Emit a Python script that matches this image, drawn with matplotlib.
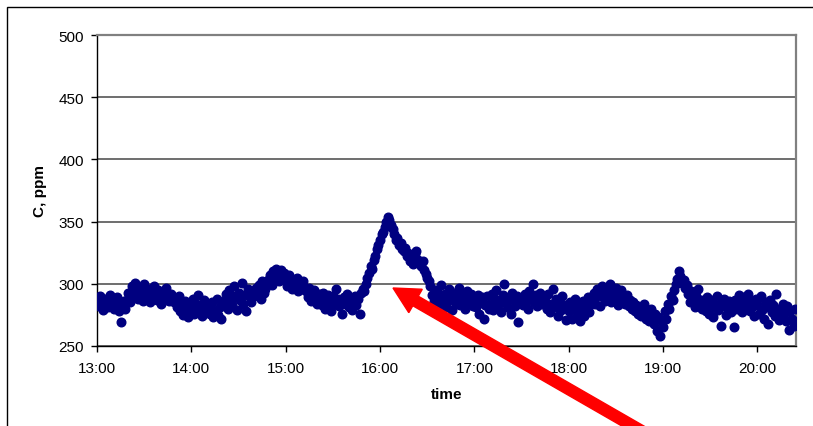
import matplotlib
matplotlib.use("Agg")
import matplotlib.pyplot as plt
from matplotlib.patches import FancyArrow, Rectangle
from matplotlib.transforms import IdentityTransform
import numpy as np

plt.rcParams['font.family'] = ['Liberation Sans', 'DejaVu Sans']

# CO2 concentration (ppm), one reading per minute starting at 13:00
c_13 = [286, 282, 290, 284, 279, 288, 285, 281, 291, 283, 287, 280, 284, 289, 278, 269, 283, 286, 280,
        287, 293, 285, 298, 290, 301,
        294, 288, 297, 291, 286, 300, 293, 289, 296, 285, 292, 298, 290, 287, 295, 291, 284, 293, 289, 297,
        288, 286, 292, 290, 285,
        287, 281, 290, 278, 284, 275, 286, 280, 273, 283]
c_14 = [280, 288, 276, 284, 291, 279, 283, 274, 287, 281, 277,
        282, 276, 285, 273, 279, 288, 275, 281, 272, 284,
        286, 292, 280, 295, 288, 283, 298, 290, 279, 293, 287, 301, 284, 291, 278, 296, 289, 285, 294, 290,
        297, 291, 299, 288, 302, 293, 296, 300,
        303, 307, 299, 310, 305, 312, 308, 302, 311, 306, 309]
c_15 = [304, 298, 307, 301, 296, 303, 299, 305, 294, 300, 297, 302, 295,
        294, 289, 297, 286, 291, 295, 288, 284, 292,
        289, 283, 293, 280, 287, 291, 285, 278, 290, 284, 296, 288, 282, 286, 276, 289, 284, 292, 281, 287,
        279, 285, 290, 283, 288, 276,
        293, 296, 294, 300, 305, 309, 314, 312, 319, 322, 328, 331]
c_16 = [335, 340, 342, 346, 350, 354,
        351, 347, 344, 340, 335, 337, 331, 333, 328, 326, 329, 322, 325, 318,
        321, 316, 324, 326, 319, 317, 314, 318, 311, 308, 305, 302,
        298, 291, 286, 295, 282, 293, 288, 299, 285, 292, 281, 290, 296, 287, 279, 293, 284, 289, 297, 283,
        291, 286, 280, 294, 288, 285, 292, 282]
c_17 = [287, 281, 291, 276, 285, 289, 272, 283, 290, 280,
        284, 292, 279, 288, 295, 283, 286, 277, 291, 300, 285, 281, 289, 276, 293, 287, 282, 290, 269, 286,
        289, 283, 292, 286, 280, 294, 288, 300, 285, 291, 282, 287, 293, 284, 289,
        286, 280, 292, 277, 284, 296, 281, 288, 274, 285, 279, 290, 283, 271, 282]
c_18 = [278, 285, 272, 281, 288, 276, 283, 270, 279, 286, 274, 282, 289, 277, 284,
        287, 293, 284, 296, 290, 282, 298, 291, 286, 294, 289, 300, 285, 292, 288, 297, 283, 291, 295, 287,
        289, 284, 291, 282, 287, 280, 285, 278, 283, 276, 281, 274, 279, 284, 272, 277, 270, 280, 275,
        268, 276, 262, 273, 258, 270]
c_19 = [265, 278, 272,
        284, 280, 290, 287, 295, 300, 304, 310,
        306, 301, 303, 297, 299,
        292, 285, 294, 288, 281, 290, 296, 284, 287, 280,
        285, 278, 289, 276, 283, 287, 273, 281, 290, 279, 284, 266, 282, 288, 275, 280, 286, 277, 283, 265,
        287, 280, 291, 283, 277, 289, 285, 281, 292, 278, 286, 282, 274, 288,
        283, 276, 290, 279, 272, 285, 281, 268, 287, 277, 283, 274, 292, 280, 271, 278, 284,
        276, 270, 282, 263, 278, 272, 266, 280]

concentration = c_13 + c_14 + c_15 + c_16 + c_17 + c_18 + c_19
minutes = np.arange(len(concentration))

hour_ticks = [0, 60, 120, 180, 240, 300, 360, 420]
hour_labels = ["13:00", "14:00", "15:00", "16:00", "17:00", "18:00", "19:00", "20:00"]
ppm_ticks = [250, 300, 350, 400, 450, 500]

W, H = 813, 427
fig = plt.figure(figsize=(W / 100, H / 100), dpi=100)
fig.patch.set_facecolor('white')

# outer chart frame
fig.add_artist(Rectangle((7 / W, -0.1), 1.2, (H - 8) / H + 0.1, transform=fig.transFigure,
                         fill=False, edgecolor='black', linewidth=1.0))

ax = fig.add_axes([97 / W, (H - 347) / H, (796 - 97) / W, (347 - 36) / H])
ax.set_axisbelow(True)
ax.yaxis.grid(True, color='#555555', linewidth=1.2)

ax.plot(minutes, concentration, linestyle='none', marker='o', markersize=6.2,
        markerfacecolor='#000080', markeredgecolor='#000080', markeredgewidth=1.0, zorder=3)

ax.set_xlim(0, 444.5)
ax.set_ylim(250, 500)
ax.set_xticks(hour_ticks)
ax.set_xticklabels(hour_labels)
ax.set_yticks(ppm_ticks)

ax.tick_params(axis='both', direction='out', length=4.5, width=1.0, labelsize=11, colors='black')
ax.tick_params(axis='x', pad=6)
ax.tick_params(axis='y', pad=5)

for side in ('left', 'bottom'):
    ax.spines[side].set_color('black')
    ax.spines[side].set_linewidth(1.0)
for side in ('top', 'right'):
    ax.spines[side].set_color('#808080')
    ax.spines[side].set_linewidth(1.6)

ax.set_ylabel('C, ppm', fontsize=11, fontweight='bold', labelpad=8)
ax.set_xlabel('time', fontsize=11, fontweight='bold', labelpad=9)

# red arrow pointing to the peak
tip = (393, H - 289)
tail = (645, H - 434)
fig.add_artist(FancyArrow(tail[0], tail[1], tip[0] - tail[0], tip[1] - tail[1],
                          width=11, head_width=27, head_length=26, length_includes_head=True,
                          color='#ff0000', transform=IdentityTransform(), zorder=10))

fig.savefig('out.png', dpi=100, facecolor='white')
